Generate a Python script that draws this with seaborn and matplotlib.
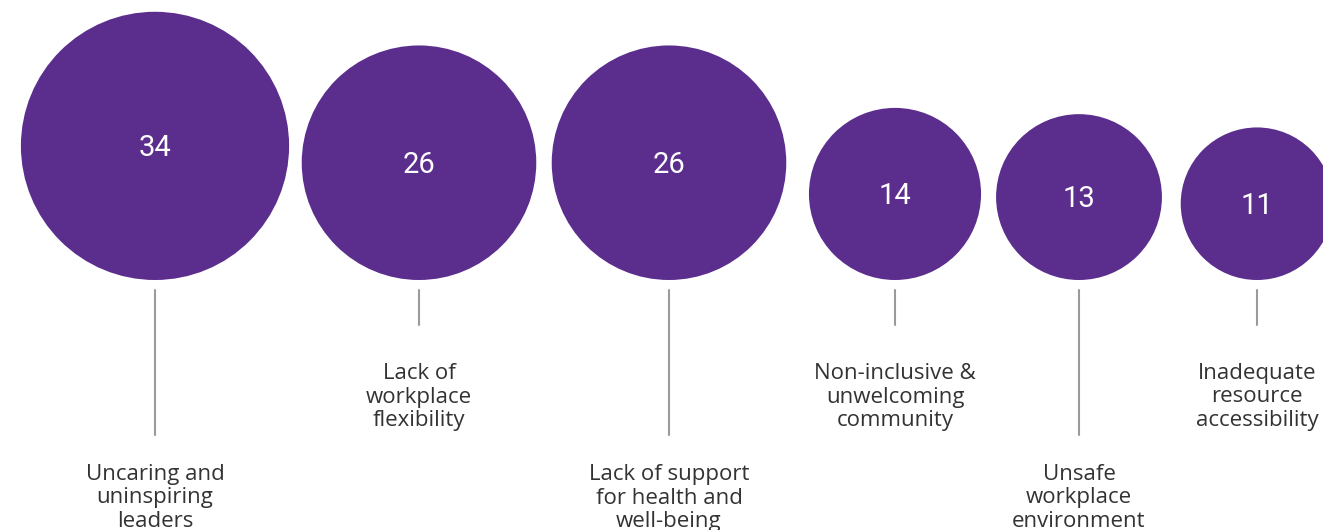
import numpy as np
import pandas as pd
import matplotlib
matplotlib.use("Agg")
import matplotlib.pyplot as plt
import seaborn as sns

# 데이터
labels = [
    "Uncaring and\nuninspiring\nleaders",
    "Lack of\nworkplace\nflexibility",
    "Lack of support\nfor health and\nwell-being",
    "Non-inclusive &\nunwelcoming\ncommunity",
    "Unsafe\nworkplace\nenvironment",
    "Inadequate\nresource\naccessibility",
]
values = [34, 26, 26, 14, 13, 11]

# 레이아웃 (픽셀 좌표)
centers_x = [155, 419, 669, 895, 1079, 1257]
baseline = 280          # 원 아래쪽이 맞춰지는 선
px_per_sqrt = 23.0      # 반지름 = k * sqrt(value)
purple = "#5B2E8E"
grey_line = "#9a9a9a"
text_col = "#333333"

W, H, DPI = 1323, 530, 100

sns.set_theme(style="white")
plt.rcParams["font.family"] = ["Open Sans", "DejaVu Sans"]

df = pd.DataFrame({"label": labels, "value": values, "x": centers_x})
df["r"] = px_per_sqrt * np.sqrt(df["value"])
df["y"] = baseline - df["r"]

fig = plt.figure(figsize=(W / DPI, H / DPI), dpi=DPI)
ax = fig.add_axes([0, 0, 1, 1])

# 면적이 값에 비례 -> 마커 면적(pt^2) = k * value
k = (2 * px_per_sqrt * 72 / DPI) ** 2
vmax = max(values)
sns.scatterplot(data=df, x="x", y="y", size="value", size_norm=(0, vmax),
                sizes=(0, vmax * k), color=purple, linewidth=0,
                legend=False, ax=ax, zorder=2)

for i, row in df.iterrows():
    ax.text(row["x"], row["y"] + 2, str(row["value"]), color="white",
            fontsize=21, family=["Roboto", "DejaVu Sans"],
            ha="center", va="center", zorder=3)
    long = i % 2 == 0
    y_end = 435 if long else 325
    ax.plot([row["x"], row["x"]], [290, y_end], color=grey_line, lw=1.5, zorder=1)
    y_mid = 498 if long else 397
    ax.text(row["x"], y_mid, row["label"], color=text_col, fontsize=16,
            ha="center", va="center", linespacing=1.17)

ax.set_xlim(0, W)
ax.set_ylim(H, 0)
ax.axis("off")

fig.savefig("out.png", dpi=DPI, facecolor="white")
